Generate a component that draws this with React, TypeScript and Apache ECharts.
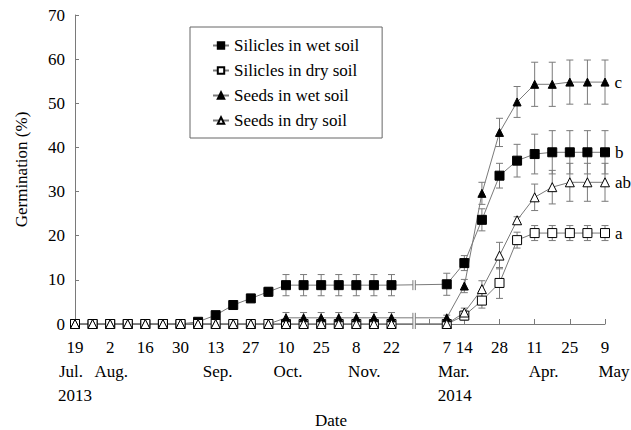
import React, { useEffect, useRef } from "react";
import * as echarts from "echarts";

// Compressed day axis: 2013 season (19 Jul = 0) and 2014 season (7 Mar = 148)
const xDays = [0, 7, 14, 21, 28, 35, 42, 49, 56, 63, 70, 77, 84, 91, 98, 105, 112, 119, 126, 148, 155, 162, 169, 176, 183, 190, 197, 204, 211];

const silWet = [0, 0, 0, 0, 0, 0, 0, 0.5, 2.0, 4.3, 5.8, 7.3, 8.8, 8.8, 8.8, 8.8, 8.8, 8.8, 8.8, 9.0, 13.8, 23.6, 33.6, 37.0, 38.5, 38.9, 38.9, 38.9, 38.9];
const silWetErr = [0, 0, 0, 0, 0, 0, 0, 0, 0, 0, 0, 1.0, 2.4, 2.4, 2.4, 2.4, 2.4, 2.4, 2.4, 2.5, 1.7, 2.5, 2.8, 3.7, 4.5, 4.9, 4.9, 4.9, 4.9];

const silDry = [0, 0, 0, 0, 0, 0, 0, 0, 0, 0, 0, 0, 0, 0, 0, 0, 0, 0, 0, 0, 1.9, 5.3, 9.3, 19.0, 20.6, 20.6, 20.6, 20.6, 20.6];
const silDryErr = [0, 0, 0, 0, 0, 0, 0, 0, 0, 0, 0, 0, 0, 0, 0, 0, 0, 0, 0, 0, 1.0, 1.7, 3.5, 1.8, 1.7, 1.7, 1.7, 1.7, 1.7];

const seedWet = [0, 0, 0, 0, 0, 0, 0, 0, 0, 0, 0, 0, 1.4, 1.4, 1.4, 1.4, 1.4, 1.4, 1.4, 1.4, 8.6, 29.6, 43.4, 50.3, 54.3, 54.3, 54.8, 54.8, 54.8];
const seedWetErr = [0, 0, 0, 0, 0, 0, 0, 0, 0, 0, 0, 0, 1.2, 1.2, 1.2, 1.2, 1.2, 1.2, 1.2, 0.6, 1.5, 2.5, 3.2, 3.5, 5.0, 5.0, 5.0, 5.0, 5.0];

const seedDry = [0, 0, 0, 0, 0, 0, 0, 0, 0, 0, 0, 0, 0, 0, 0, 0, 0, 0, 0, 0, 2.6, 7.9, 15.5, 23.5, 28.7, 31.0, 32.1, 32.1, 32.1];
const seedDryErr = [0, 0, 0, 0, 0, 0, 0, 0, 0, 0, 0, 0, 0, 0, 0, 0, 0, 0, 0, 0, 1.0, 1.9, 3.0, 0.8, 3.0, 3.8, 4.3, 4.3, 4.3];

const seriesNames = ["Silicles in wet soil", "Silicles in dry soil", "Seeds in wet soil", "Seeds in dry soil"];
const sigLetters = ["b", "a", "c", "ab"];

const tickDays = [0, 14, 28, 42, 56, 70, 84, 98, 112, 126, 141, 148, 155, 169, 183, 197, 211];
const labelDays = [0, 14, 28, 42, 56, 70, 84, 98, 112, 126, 148, 155, 169, 183, 197, 211];
const dayLabels = ["19", "2", "16", "30", "13", "27", "10", "25", "8", "22", "7", "14", "28", "11", "25", "9"];
const monthLabels = ["Jul.", "Aug.", "", "", "Sep.", "", "Oct.", "", "Nov.", "", "Mar.", "", "", "Apr.", "", "May"];
const yearLabels = ["2013", "", "", "", "", "", "", "", "", "", "2014", "", "", "", "", ""];

const breakDay = 135;
const breakRanges = [[8.8, 8.8], [0, 1.4]];

// label styling offsets (px)
const monthShift: Record<string, number> = { "Jul.": -4, "Aug.": 1, "Sep.": 2, "Oct.": 2, "Nov.": 8, "Mar.": 7, "Apr.": 9, "May": 9 };
const yearShift: Record<string, number> = { "2013": 0, "2014": 8 };

const FONT = "Liberation Serif";
const GRAY = "#7a7a7a";

export default function App() {
  const ref = useRef<HTMLDivElement>(null);
  useEffect(() => {
    document.body.style.margin = "0";
    if (!ref.current) return;
    const chart = echarts.init(ref.current, undefined, { renderer: "svg" });

    const base = { fontSize: 17, fontFamily: FONT, color: "#000", lineHeight: 24 };
    const pad = (s: number) => (s >= 0 ? [0, 0, 0, 2 * s] : [0, -2 * s, 0, 0]);
    const rich: Record<string, any> = { d: { ...base } };
    Object.keys(monthShift).forEach((k, i) => {
      rich["m" + i] = { ...base, padding: pad(monthShift[k]) };
    });
    Object.keys(yearShift).forEach((k, i) => {
      rich["y" + i] = { ...base, padding: pad(yearShift[k]) };
    });
    const monthKeys = Object.keys(monthShift);
    const yearKeys = Object.keys(yearShift);

    const formatter = (v: number) => {
      const i = labelDays.indexOf(Math.round(v));
      if (i < 0) return "";
      let s = `{d|${dayLabels[i]}}`;
      if (monthLabels[i]) s += `\n{m${monthKeys.indexOf(monthLabels[i])}|${monthLabels[i]}}`;
      if (yearLabels[i]) s += `\n{y${yearKeys.indexOf(yearLabels[i])}|${yearLabels[i]}}`;
      return s;
    };

    const values = [silWet, silDry, seedWet, seedDry];
    const errs = [silWetErr, silDryErr, seedWetErr, seedDryErr];
    const styles = [
      { symbol: "rect", size: 9, fill: "#000" },
      { symbol: "rect", size: 9, fill: "#fff" },
      { symbol: "triangle", size: 8, fill: "#000" },
      { symbol: "triangle", size: 9, fill: "#fff" },
    ];

    const errData: number[][] = [];
    values.forEach((vals, s) => {
      vals.forEach((v, i) => {
        const e = errs[s][i];
        if (e > 0) errData.push([xDays[i], v - e, v + e]);
      });
    });

    const lineSeries = values.map((vals, s) => ({
      name: seriesNames[s],
      type: "line",
      z: 3,
      symbol: styles[s].symbol,
      symbolSize: styles[s].size,
      showAllSymbol: true,
      lineStyle: { color: GRAY, width: 1 },
      itemStyle: { color: styles[s].fill, borderColor: "#000", borderWidth: 1 },
      emphasis: { disabled: true },
      data: vals.map((v, i) =>
        i === vals.length - 1
          ? {
              value: [xDays[i], v],
              label: {
                show: true,
                formatter: sigLetters[s],
                position: "right",
                distance: 5,
                fontSize: 17,
                fontFamily: FONT,
                color: "#000",
              },
            }
          : [xDays[i], v]
      ),
    }));

    const option: any = {
      animation: false,
      textStyle: { fontFamily: FONT, color: "#000" },
      grid: { left: 75, right: 26, top: 15, bottom: 106, containLabel: false, outerBoundsMode: "none" },
      legend: {
        orient: "vertical",
        left: 190,
        top: 27,
        data: seriesNames,
        itemWidth: 16,
        itemHeight: 8,
        itemGap: 8,
        padding: [10, 23, 9, 22],
        borderColor: "#666",
        borderWidth: 1,
        textStyle: { fontSize: 17, fontFamily: FONT, color: "#000" },
        selectedMode: false,
      },
      xAxis: {
        type: "value",
        min: 0,
        max: 211,
        name: "Date",
        nameLocation: "middle",
        nameGap: 87,
        nameTextStyle: { fontSize: 17, lineHeight: 18, fontFamily: FONT, color: "#000", padding: [0, 18, 0, 0] },
        axisLine: { show: true, lineStyle: { color: GRAY, width: 1 } },
        axisTick: { show: true, inside: true, length: 5, customValues: tickDays, lineStyle: { color: GRAY } },
        axisLabel: {
          show: true,
          customValues: labelDays,
          showMinLabel: true,
          showMaxLabel: true,
          hideOverlap: false,
          formatter,
          rich,
          margin: 11,
          fontSize: 17,
          fontFamily: FONT,
          color: "#000",
        },
        splitLine: { show: false },
      },
      yAxis: {
        type: "value",
        min: 0,
        max: 70,
        interval: 10,
        name: "Germination (%)",
        nameLocation: "middle",
        nameGap: 45,
        nameTextStyle: { fontSize: 17, fontFamily: FONT, color: "#000" },
        axisLine: { show: true, lineStyle: { color: GRAY, width: 1 } },
        axisTick: { show: true, inside: true, length: 4, lineStyle: { color: GRAY } },
        axisLabel: { fontSize: 17, fontFamily: FONT, color: "#000", margin: 10 },
        splitLine: { show: false },
      },
      series: [
        {
          type: "custom",
          name: "errors",
          z: 2,
          silent: true,
          data: errData,
          encode: { x: 0, y: [1, 2] },
          renderItem: (params: any, api: any) => {
            const x = api.value(0);
            const lo = api.coord([x, api.value(1)]);
            const hi = api.coord([x, api.value(2)]);
            const cap = 3.5;
            const st = { stroke: GRAY, lineWidth: 1 };
            return {
              type: "group",
              children: [
                { type: "line", shape: { x1: lo[0], y1: lo[1], x2: hi[0], y2: hi[1] }, style: st },
                { type: "line", shape: { x1: lo[0] - cap, y1: lo[1], x2: lo[0] + cap, y2: lo[1] }, style: st },
                { type: "line", shape: { x1: hi[0] - cap, y1: hi[1], x2: hi[0] + cap, y2: hi[1] }, style: st },
              ],
            };
          },
        },
        {
          type: "custom",
          name: "breaks",
          z: 4,
          silent: true,
          data: breakRanges.map((r) => [breakDay, r[0], r[1]]),
          encode: { x: 0, y: [1, 2] },
          renderItem: (params: any, api: any) => {
            const x = api.value(0);
            const lo = api.coord([x, api.value(1)]);
            const hi = api.coord([x, api.value(2)]);
            const ext = 5;
            const st = { stroke: GRAY, lineWidth: 1 };
            return {
              type: "group",
              children: [
                { type: "rect", shape: { x: lo[0] - 1.2, y: hi[1] - ext, width: 2.4, height: lo[1] - hi[1] + 2 * ext }, style: { fill: "#fff" } },
                { type: "line", shape: { x1: lo[0] - 1.2, y1: lo[1] + ext, x2: lo[0] - 1.2, y2: hi[1] - ext }, style: st },
                { type: "line", shape: { x1: lo[0] + 1.2, y1: lo[1] + ext, x2: lo[0] + 1.2, y2: hi[1] - ext }, style: st },
              ],
            };
          },
        },
        ...lineSeries,
      ],
    };

    chart.setOption(option);
    return () => chart.dispose();
  }, []);

  return <div ref={ref} style={{ width: 631, height: 430 }} />;
}
